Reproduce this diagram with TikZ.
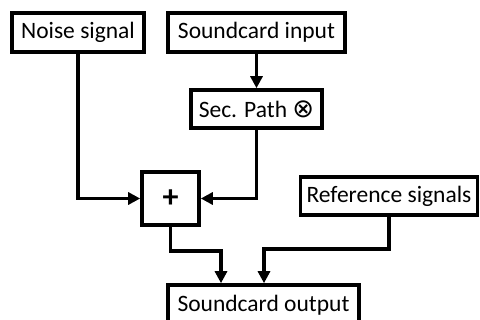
\documentclass[tikz,border=0pt]{standalone}
\usepackage{fontspec}
\setmainfont{Carlito}
\newfontfamily\symfont{DejaVu Sans}
\usetikzlibrary{arrows.meta,calc}
\begin{document}
\begin{tikzpicture}[x=1pt,y=-1pt,
  blk/.style={draw=black,line width=3.6pt,rectangle,inner sep=0pt,font=\fontsize{23.5}{28}\selectfont},
  arr/.style={line width=3.6pt,-{Triangle[length=12pt,width=12pt]}},
  ln/.style={line width=3.6pt}]
\useasboundingbox (0,0) rectangle (480,320);
\begin{scope}
\clip (0,0) rectangle (480,320);
\node[blk,minimum width=132pt,minimum height=39pt] (noise) at (78,32.5) {Noise signal};
\node[blk,minimum width=177pt,minimum height=39pt] (scin) at (256.5,32.5) {Soundcard input};
\node[blk,minimum width=131pt,minimum height=38pt] (sec) at (256.5,109) {Sec. Path {\symfont\fontsize{26}{30}\selectfont ⊗}};
\node[blk,minimum width=57pt,minimum height=53pt,font=\fontsize{32}{36}\selectfont\bfseries] (plus) at (170.5,198.5) {+};
\node[blk,minimum width=177pt,minimum height=38pt] (ref) at (389,196) {Reference signals};
\node[blk,minimum width=191pt,minimum height=40pt] (out) at (263.5,305) {Soundcard output};
\coordinate (j1) at (221,251);
\coordinate (j2) at (264,249);
\draw[arr] (noise.south) |- (plus.west);
\draw[arr] (scin.south) -- (sec.north);
\draw[arr] (sec.south) |- (plus.east);
\draw[arr] (plus.south) |- (j1) -- (j1 |- out.north);
\draw[arr] (ref.south) |- (j2) -- (j2 |- out.north);
\end{scope}
\end{tikzpicture}
\end{document}
